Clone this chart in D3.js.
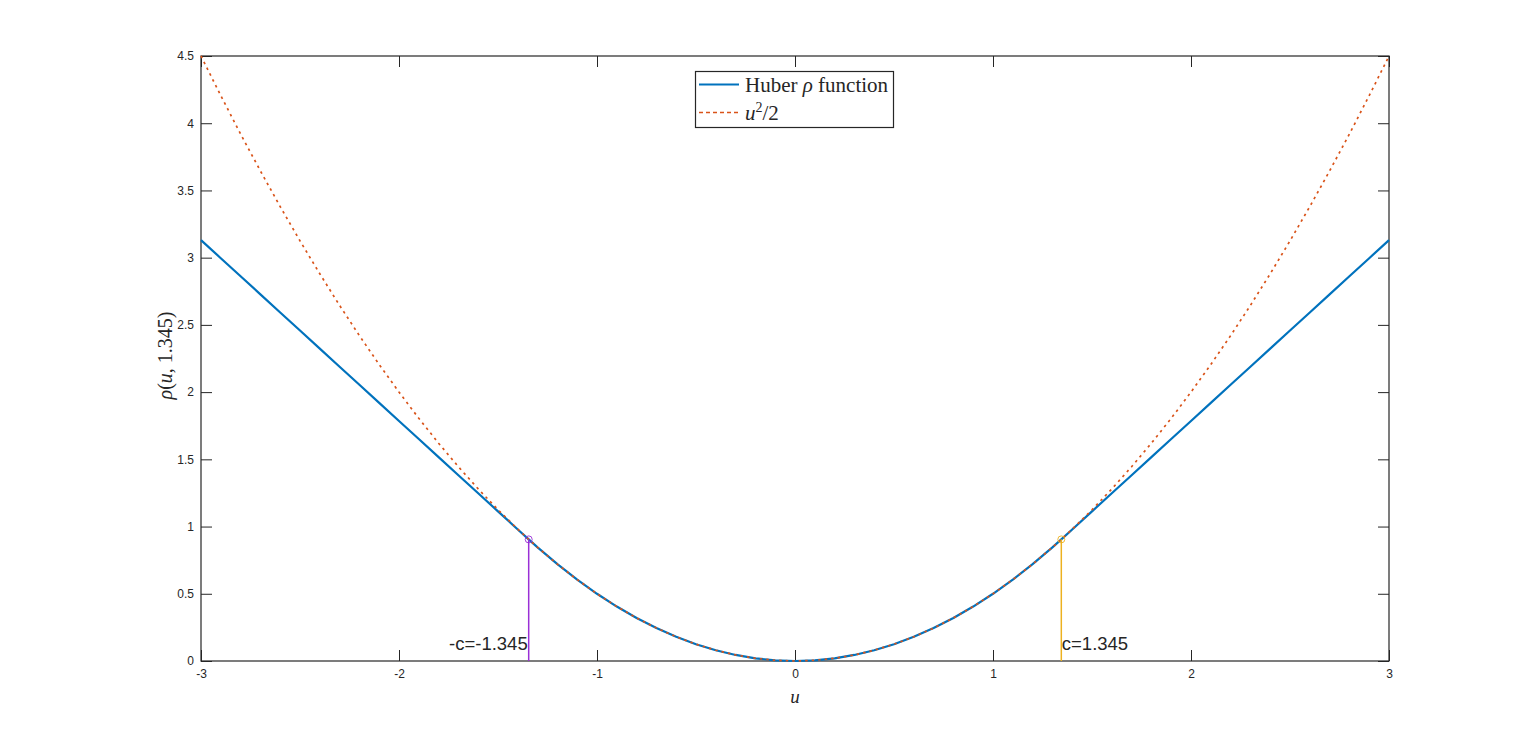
<!DOCTYPE html>
<html>
<head>
<meta charset="utf-8">
<script src="https://cdn.jsdelivr.net/npm/d3@7"></script>
<style>
  html, body { margin: 0; padding: 0; background: #fff; }
  svg { display: block; }
</style>
</head>
<body>
<svg id="chart" width="1536" height="744"></svg>
<script>
// ---- data ----
const uValues = [-3.0,-2.9,-2.8,-2.7,-2.6,-2.5,-2.4,-2.3,-2.2,-2.1,-2.0,-1.9,-1.8,-1.7,-1.6,-1.5,-1.4,-1.345,-1.3,-1.2,-1.1,-1.0,-0.9,-0.8,-0.7,-0.6,-0.5,-0.4,-0.3,-0.2,-0.1,0.0,
  0.1,0.2,0.3,0.4,0.5,0.6,0.7,0.8,0.9,1.0,1.1,1.2,1.3,1.345,1.4,1.5,1.6,1.7,1.8,1.9,2.0,2.1,2.2,2.3,2.4,2.5,2.6,2.7,2.8,2.9,3.0];
const huberValues = [3.1305,2.996,2.8615,2.727,2.5925,2.458,2.3235,2.189,2.0545,1.92,1.7855,1.651,1.5165,1.382,1.2475,1.113,0.9785,0.9045,0.845,0.72,0.605,0.5,0.405,0.32,0.245,0.18,0.125,0.08,0.045,0.02,0.005,0.0,
  0.005,0.02,0.045,0.08,0.125,0.18,0.245,0.32,0.405,0.5,0.605,0.72,0.845,0.9045,0.9785,1.113,1.2475,1.382,1.5165,1.651,1.7855,1.92,2.0545,2.189,2.3235,2.458,2.5925,2.727,2.8615,2.996,3.1305];
const halfSquareValues = [4.5,4.205,3.92,3.645,3.38,3.125,2.88,2.645,2.42,2.205,2.0,1.805,1.62,1.445,1.28,1.125,0.98,0.9045,0.845,0.72,0.605,0.5,0.405,0.32,0.245,0.18,0.125,0.08,0.045,0.02,0.005,0.0,
  0.005,0.02,0.045,0.08,0.125,0.18,0.245,0.32,0.405,0.5,0.605,0.72,0.845,0.9045,0.98,1.125,1.28,1.445,1.62,1.805,2.0,2.205,2.42,2.645,2.88,3.125,3.38,3.645,3.92,4.205,4.5];
const cutoffU = [-1.345, 1.345];
const cutoffRho = [0.9045, 0.9045];
const cutoffLabels = ["-c=-1.345", "c=1.345"];
const xTicks = [-3,-2,-1,0,1,2,3];
const yTicks = [0,0.5,1,1.5,2,2.5,3,3.5,4,4.5];
const xDomain = [-3, 3];
const yDomain = [0, 4.5];

// ---- layout ----
const svg = d3.select("#chart");
const L = 201, R = 1389, T = 56, B = 661;
const axisColor = "#262626";
const blue = "#0072BD", orange = "#D95319", purple = "#9A2FD6", yellow = "#EDB120";

const x = d3.scaleLinear().domain(xDomain).range([L, R]);
const y = d3.scaleLinear().domain(yDomain).range([B, T]);

const tickLen = 11;
const fmt = d => String(d);

function styleAxis(g) {
  g.select(".domain").remove();
  g.selectAll(".tick line").attr("stroke", axisColor).attr("stroke-width", 1);
  g.selectAll(".tick text").attr("fill", axisColor)
    .style("font-family", "'Liberation Sans', Arial, sans-serif").style("font-size", "12px");
}

// bottom
svg.append("g").attr("transform", `translate(0,${B})`)
  .call(d3.axisBottom(x).tickValues(xTicks).tickFormat(fmt).tickSizeInner(-tickLen).tickSizeOuter(0).tickPadding(8))
  .call(styleAxis);
// top
svg.append("g").attr("transform", `translate(0,${T})`)
  .call(d3.axisTop(x).tickValues(xTicks).tickFormat("").tickSizeInner(-tickLen).tickSizeOuter(0))
  .call(styleAxis);
// left
svg.append("g").attr("transform", `translate(${L},0)`)
  .call(d3.axisLeft(y).tickValues(yTicks).tickFormat(fmt).tickSizeInner(-tickLen).tickSizeOuter(0).tickPadding(7))
  .call(styleAxis);
// right
svg.append("g").attr("transform", `translate(${R},0)`)
  .call(d3.axisRight(y).tickValues(yTicks).tickFormat("").tickSizeInner(-tickLen).tickSizeOuter(0))
  .call(styleAxis);

// box
svg.append("rect").attr("x", L).attr("y", T).attr("width", R - L).attr("height", B - T)
  .attr("fill", "none").attr("stroke", axisColor).attr("stroke-width", 1.2);

// curves
const idx = d3.range(uValues.length);
const huberLine = d3.line().x(i => x(uValues[i])).y(i => y(huberValues[i]));
const quadLine = d3.line().x(i => x(uValues[i])).y(i => y(halfSquareValues[i]));

svg.append("path").attr("d", huberLine(idx)).attr("fill", "none")
  .attr("stroke", blue).attr("stroke-width", 2.2).attr("stroke-linejoin", "round");
svg.append("path").attr("d", quadLine(idx)).attr("fill", "none")
  .attr("stroke", orange).attr("stroke-width", 1.7).attr("stroke-dasharray", "2.5,4");

// cutoff stems
const cutColors = [purple, yellow];
cutoffU.forEach((u, i) => {
  svg.append("line").attr("x1", x(u)).attr("x2", x(u)).attr("y1", y(0)).attr("y2", y(cutoffRho[i]))
    .attr("stroke", cutColors[i]).attr("stroke-width", 1.5);
  svg.append("circle").attr("cx", x(u)).attr("cy", y(cutoffRho[i])).attr("r", 3.5)
    .attr("fill", "none").attr("stroke", cutColors[i]).attr("stroke-width", 0.9);
});

// annotations
svg.append("text").attr("x", x(cutoffU[0]) - 1).attr("y", y(0.08))
  .attr("text-anchor", "end").attr("fill", axisColor)
  .style("font-family", "'Liberation Sans', Arial, sans-serif").style("font-size", "18.5px")
  .text(cutoffLabels[0]);
svg.append("text").attr("x", x(cutoffU[1]) + 0.5).attr("y", y(0.08))
  .attr("text-anchor", "start").attr("fill", axisColor)
  .style("font-family", "'Liberation Sans', Arial, sans-serif").style("font-size", "18.5px")
  .text(cutoffLabels[1]);

// axis labels
const serif = "'Liberation Serif', 'Times New Roman', serif";
svg.append("text").attr("x", (L + R) / 2).attr("y", 703)
  .attr("text-anchor", "middle").attr("fill", axisColor)
  .style("font-family", serif).style("font-size", "19px").style("font-style", "italic")
  .text("u");

const yl = svg.append("text").attr("transform", `translate(172,${(T + B) / 2 - 3}) rotate(-90)`)
  .attr("text-anchor", "middle").attr("fill", axisColor)
  .style("font-family", serif).style("font-size", "20px");
yl.append("tspan").style("font-style", "italic").text("ρ");
yl.append("tspan").text("(");
yl.append("tspan").style("font-style", "italic").text("u");
yl.append("tspan").text(", 1.345)");

// legend
const lg = svg.append("g");
lg.append("rect").attr("x", 695.5).attr("y", 71.5).attr("width", 198).attr("height", 56)
  .attr("fill", "#fff").attr("stroke", axisColor).attr("stroke-width", 1.2);
lg.append("line").attr("x1", 699).attr("x2", 739).attr("y1", 84.5).attr("y2", 84.5)
  .attr("stroke", blue).attr("stroke-width", 2.2);
lg.append("line").attr("x1", 699).attr("x2", 739).attr("y1", 112.5).attr("y2", 112.5)
  .attr("stroke", orange).attr("stroke-width", 1.7).attr("stroke-dasharray", "4,3");
const t1 = lg.append("text").attr("x", 745).attr("y", 91.5).attr("fill", axisColor)
  .style("font-family", serif).style("font-size", "21px");
t1.append("tspan").text("Huber ");
t1.append("tspan").style("font-style", "italic").text("ρ");
t1.append("tspan").text(" function");
const t2 = lg.append("text").attr("x", 745).attr("y", 119.5).attr("fill", axisColor)
  .style("font-family", serif).style("font-size", "21px");
t2.append("tspan").style("font-style", "italic").text("u");
t2.append("tspan").attr("dy", -8).style("font-size", "14px").text("2");
t2.append("tspan").attr("dy", 8).text("/2");
</script>
</body>
</html>
